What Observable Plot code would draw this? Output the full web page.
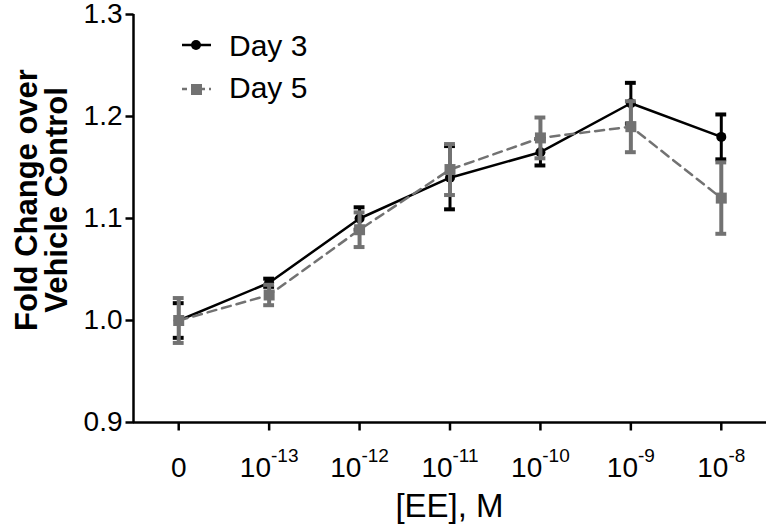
<!DOCTYPE html>
<html><head><meta charset="utf-8">
<script src="https://cdn.jsdelivr.net/npm/d3@7"></script>
<script src="https://cdn.jsdelivr.net/npm/@observablehq/plot@0.6"></script>
<style>
body{margin:0;background:#fff}
#chart svg{font-family:Arial,"Liberation Sans",sans-serif;overflow:visible}
</style>
</head><body><div id="chart"></div>
<script>
// ---- data ----
const concentrations = ["0", "10^-13", "10^-12", "10^-11", "10^-10", "10^-9", "10^-8"];
const day3Mean = [1.000, 1.037, 1.100, 1.140, 1.165, 1.213, 1.180];
const day3Err  = [0.017, 0.004, 0.011, 0.031, 0.013, 0.020, 0.022];
const day5Mean = [1.000, 1.025, 1.089, 1.148, 1.179, 1.190, 1.120];
const day5Err  = [0.022, 0.010, 0.017, 0.025, 0.020, 0.025, 0.035];
const yTicks = [0.9, 1.0, 1.1, 1.2, 1.3];
const seriesNames = ["Day 3", "Day 5"];
const xTitle = "[EE], M";
const yTitle = ["Fold Change over", "Vehicle Control"];

const BLACK = "#000", GRAY = "#727272";
const idx = concentrations.map((_, i) => i);
const xDomain = [-0.5, concentrations.length - 0.5];
const day3 = idx.map(i => ({i, mean: day3Mean[i], err: day3Err[i]}));
const day5 = idx.map(i => ({i, mean: day5Mean[i], err: day5Err[i]}));
const cap = 0.06;

// tick-mark symbols (short strokes) for the axes
const yTickSym = {draw(ctx) { ctx.moveTo(-8, 0); ctx.lineTo(0, 0); }};
const xTickSym = {draw(ctx) { ctx.moveTo(0, 0); ctx.lineTo(0, 8); }};

function bars(data, color, w) {
  return [
    Plot.ruleX(data, {x: "i", y1: d => d.mean - d.err, y2: d => d.mean + d.err, stroke: color, strokeWidth: w}),
    Plot.ruleY(data, {y: d => d.mean - d.err, x1: d => d.i - cap, x2: d => d.i + cap, stroke: color, strokeWidth: 4}),
    Plot.ruleY(data, {y: d => d.mean + d.err, x1: d => d.i - cap, x2: d => d.i + cap, stroke: color, strokeWidth: 4})
  ];
}

const plot = Plot.plot({
  width: 768, height: 524,
  marginLeft: 133, marginRight: 2, marginTop: 14, marginBottom: 102,
  style: {fontFamily: "Arial, 'Liberation Sans', sans-serif", fontSize: "28px", color: "#000", background: "#fff"},
  x: {domain: xDomain},
  y: {domain: [yTicks[0], yTicks[yTicks.length - 1]]},
  marks: [
    Plot.axisY({ticks: yTicks, tickFormat: d => d.toFixed(1), tickSize: 0, tickPadding: 11, fontSize: 28, label: null}),
    Plot.axisX({ticks: idx, tickFormat: i => concentrations[i], tickSize: 0, tickPadding: 35, fontSize: 28, label: null}),
    Plot.dot(yTicks, {x: () => xDomain[0], y: d => d, symbol: yTickSym, r: 4, stroke: "#000", strokeWidth: 2.5, fill: "none"}),
    Plot.dot(idx, {x: d => d, y: () => yTicks[0], symbol: xTickSym, r: 4, stroke: "#000", strokeWidth: 2.5, fill: "none"}),
    Plot.ruleY([yTicks[0]], {stroke: "#000", strokeWidth: 2.5}),
    Plot.ruleX([xDomain[0]], {stroke: "#000", strokeWidth: 2.5}),
    Plot.line(day3, {x: "i", y: "mean", stroke: BLACK, strokeWidth: 2.5}),
    Plot.line(day5, {x: "i", y: "mean", stroke: GRAY, strokeWidth: 2.5, strokeDasharray: "9,6"}),
    ...bars(day3, BLACK, 3),
    Plot.dot(day3, {x: "i", y: "mean", r: 5, fill: BLACK, symbol: "circle"}),
    ...bars(day5, GRAY, 4),
    Plot.dot(day5, {x: "i", y: "mean", r: 6.2, fill: GRAY, symbol: "square"})
  ]
});
document.getElementById("chart").appendChild(plot);

const svg = d3.select(plot);
svg.selectAll('g[aria-label="x-axis tick label"], g[aria-label="y-axis tick label"]')
  .attr("fill", "#000").attr("fill-opacity", 1);
// superscript tick labels
svg.selectAll('g[aria-label="x-axis tick label"] text').each(function () {
  const t = this.textContent;
  if (!t.includes("^")) return;
  const [base, exp] = t.split("^");
  const el = d3.select(this);
  el.text(null);
  el.append("tspan").text(base);
  el.append("tspan").attr("dy", "-15px").style("font-size", "19px").text(exp);
});

// axis titles
svg.append("text").attr("x", 449.5).attr("y", 517).attr("text-anchor", "middle")
  .style("font-size", "33px").text(xTitle);
yTitle.forEach((t, k) => {
  svg.append("text").attr("transform", `translate(${37 + k * 30},200) rotate(-90)`)
    .attr("text-anchor", "middle").style("font-size", "31px").attr("font-weight", "bold").text(t);
});

// legend
const lg = svg.append("g").attr("text-anchor", "start");
lg.append("line").attr("x1", 182).attr("x2", 211).attr("y1", 45).attr("y2", 45).attr("stroke", BLACK).attr("stroke-width", 2.5);
lg.append("circle").attr("cx", 196).attr("cy", 45).attr("r", 5).attr("fill", BLACK);
lg.append("text").attr("x", 229).attr("y", 56).style("font-size", "30px").text(seriesNames[0]);
lg.append("line").attr("x1", 182).attr("x2", 211).attr("y1", 89).attr("y2", 89).attr("stroke", GRAY).attr("stroke-width", 2.5).attr("stroke-dasharray", "5,4");
lg.append("rect").attr("x", 191).attr("y", 84).attr("width", 11).attr("height", 11).attr("fill", GRAY);
lg.append("text").attr("x", 229).attr("y", 98).style("font-size", "30px").text(seriesNames[1]);
</script>
</body></html>
